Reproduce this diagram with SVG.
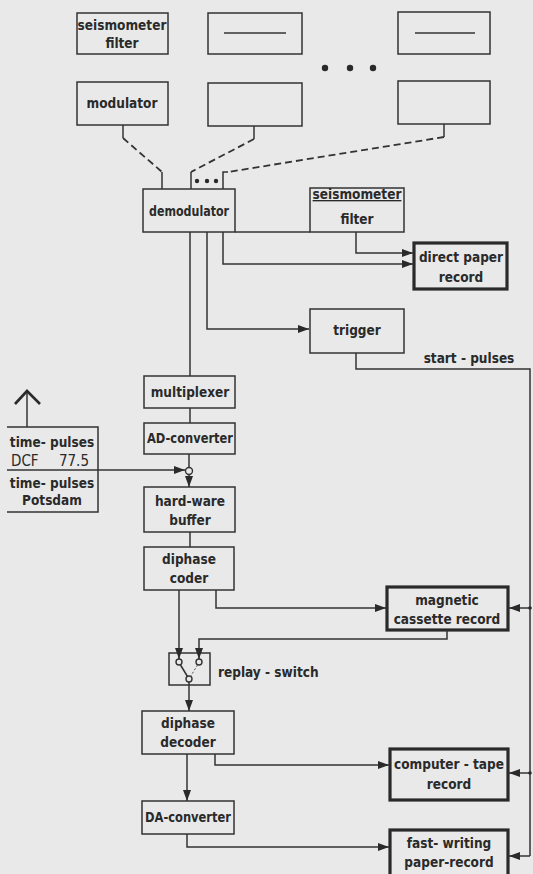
<svg xmlns="http://www.w3.org/2000/svg" width="533" height="874" viewBox="0 0 533 874">
<style>
.bx{fill:none;stroke:#333;stroke-width:1.5}
.tk{fill:none;stroke:#2a2a2a;stroke-width:3.2}
.ln{fill:none;stroke:#333;stroke-width:1.5}
.ds{fill:none;stroke:#333;stroke-width:1.8;stroke-dasharray:7 4}
text{font-family:"DejaVu Sans Condensed","DejaVu Sans",sans-serif;font-weight:bold;font-size:13.5px;fill:#2a2a2a;text-anchor:middle}
.l{text-anchor:start}
.e{text-anchor:end}
.n{font-weight:normal;font-size:15px}
</style>
<defs>
<marker id="ar" markerUnits="userSpaceOnUse" markerWidth="11" markerHeight="8" refX="11" refY="4" orient="auto">
<path d="M0,0 L11,4 L0,8 z" fill="#2a2a2a"/>
</marker>
</defs>
<rect width="533" height="874" fill="#e9e9e9"/>

<g id="sf1"><rect class="bx" x="77" y="13" width="91" height="41"/><text x="122" y="30">seismometer</text><text x="122" y="48">filter</text></g>
<g id="mod1"><rect class="bx" x="77" y="82" width="91" height="43"/><text x="122" y="108">modulator</text></g>
<g id="b2top"><rect class="bx" x="208" y="13" width="94" height="41"/><line class="ln" x1="224" y1="33" x2="286" y2="33" stroke-width="2"/></g>
<g id="b2bot"><rect class="bx" x="208" y="83" width="94" height="43"/></g>
<g id="b3top"><rect class="bx" x="398" y="12" width="92" height="42"/><line class="ln" x1="415" y1="33" x2="475" y2="33" stroke-width="2"/></g>
<g id="b3bot"><rect class="bx" x="398" y="81" width="92" height="43"/></g>
<g id="dots"><circle cx="325" cy="68" r="3.2" fill="#2a2a2a"/><circle cx="350" cy="68" r="3.2" fill="#2a2a2a"/><circle cx="373" cy="68" r="3.2" fill="#2a2a2a"/></g>
<g id="demod"><rect class="bx" x="143" y="189" width="92" height="43"/><text x="189" y="216" textLength="80" lengthAdjust="spacingAndGlyphs">demodulator</text>
<circle cx="197" cy="181" r="2.2" fill="#2a2a2a"/><circle cx="207" cy="181" r="2.2" fill="#2a2a2a"/><circle cx="216" cy="181" r="2.2" fill="#2a2a2a"/></g>
<g id="sf2"><rect class="bx" x="310" y="188" width="94" height="44"/><text x="357" y="199" text-decoration="underline">seismometer</text><text x="357" y="224">filter</text></g>
<g id="dpr"><rect class="tk" x="414" y="243" width="93" height="46"/><text x="461" y="262">direct paper</text><text x="461" y="282">record</text></g>
<g id="trigger"><rect class="bx" x="310" y="309" width="94" height="44"/><text x="357" y="335">trigger</text></g>
<g id="mux"><rect class="bx" x="144" y="376" width="91" height="32"/><text x="190" y="397">multiplexer</text></g>
<g id="adc"><rect class="bx" x="144" y="423" width="91" height="31"/><text x="190" y="443" textLength="86" lengthAdjust="spacingAndGlyphs">AD-converter</text></g>
<g id="time"><path class="bx" d="M7,427 H98 V512 H7"/><text x="52" y="447">time- pulses</text><text class="l n" x="11" y="466">DCF</text><text class="e n" x="89" y="466">77.5</text><text x="52" y="488">time- pulses</text><text x="52" y="505">Potsdam</text>
<line class="ln" x1="27" y1="427" x2="27" y2="391"/><path d="M15,404 L27,391 L40,404" fill="none" stroke="#2a2a2a" stroke-width="2.6"/></g>
<g id="buffer"><rect class="bx" x="144" y="487" width="91" height="45"/><text x="190" y="506">hard-ware</text><text x="190" y="525">buffer</text></g>
<g id="coder"><rect class="bx" x="144" y="547" width="90" height="43"/><text x="189" y="564">diphase</text><text x="189" y="583">coder</text></g>
<g id="mag"><rect class="tk" x="387" y="587" width="121" height="43"/><text x="447" y="605">magnetic</text><text x="447" y="624">cassette record</text></g>
<g id="switch"><rect class="bx" x="169" y="653" width="41" height="32"/>
<circle cx="179" cy="662" r="3" fill="#e9e9e9" stroke="#333" stroke-width="1.4"/><circle cx="199" cy="662" r="3" fill="#e9e9e9" stroke="#333" stroke-width="1.4"/><circle cx="189" cy="679" r="3" fill="#e9e9e9" stroke="#333" stroke-width="1.4"/>
<line class="ln" x1="180.5" y1="665" x2="187.5" y2="676.5"/><line x1="197.5" y1="665" x2="190.5" y2="676.5" stroke="#555" stroke-width="1" stroke-dasharray="2 2"/>
<text class="l" x="218" y="677">replay - switch</text></g>
<g id="decoder"><rect class="bx" x="142" y="711" width="92" height="43"/><text x="188" y="728">diphase</text><text x="188" y="747">decoder</text></g>
<g id="dac"><rect class="bx" x="142" y="801" width="92" height="33"/><text x="188" y="822" textLength="86" lengthAdjust="spacingAndGlyphs">DA-converter</text></g>
<g id="ctr"><rect class="tk" x="390" y="749" width="118" height="51"/><text x="449" y="769">computer - tape</text><text x="449" y="789">record</text></g>
<g id="fwr"><rect class="tk" x="390" y="830" width="118" height="48"/><text x="449" y="848">fast- writing</text><text x="449" y="867">paper-record</text></g>

<g id="connectors">
<path class="ln" d="M123,125 V138"/><path class="ds" d="M123,138 L162,172"/><path class="ln" d="M162,172 V189"/>
<path class="ln" d="M254,126 V139"/><path class="ds" d="M254,139 L191,172"/><path class="ln" d="M191,172 V189"/>
<path class="ln" d="M444,124 V137"/><path class="ds" d="M444,137 L228,172"/><path class="ln" d="M228,172 H223 V189"/>
<path class="ln" d="M235,232 H310"/>
<path class="ln" d="M356,232 V253 H413" marker-end="url(#ar)"/>
<path class="ln" d="M223,232 V264 H413" marker-end="url(#ar)"/>
<path class="ln" d="M207,232 V329 H309" marker-end="url(#ar)"/>
<path class="ln" d="M190,232 V376"/>
<path class="ln" d="M356,353 V369 H530 V856"/>
<text x="469" y="363">start - pulses</text>
<path class="ln" d="M190,408 V423"/>
<path class="ln" d="M189,454 V467.5"/>
<circle cx="189" cy="471" r="3.5" fill="#e9e9e9" stroke="#333" stroke-width="1.4"/>
<path class="ln" d="M7,470 H185" marker-end="url(#ar)"/>
<path class="ln" d="M189,474.5 V487" marker-end="url(#ar)"/>
<path class="ln" d="M190,532 V547"/>
<path class="ln" d="M179,590 V659" marker-end="url(#ar)"/>
<path class="ln" d="M216,590 V608 H386" marker-end="url(#ar)"/>
<path class="ln" d="M447,630 V639 H199 V659" marker-end="url(#ar)"/>
<path class="ln" d="M189,682 V711" marker-end="url(#ar)"/>
<path class="ln" d="M187,754 V801" marker-end="url(#ar)"/>
<path class="ln" d="M215,754 V765 H389" marker-end="url(#ar)"/>
<path class="ln" d="M187,834 V847 H389" marker-end="url(#ar)"/>
<path class="ln" d="M530,608 H509" marker-end="url(#ar)"/>
<path class="ln" d="M530,773 H509" marker-end="url(#ar)"/>
<path class="ln" d="M530,856 H509" marker-end="url(#ar)"/>
<circle cx="530" cy="608" r="1.8" fill="#2a2a2a"/><circle cx="530" cy="773" r="1.8" fill="#2a2a2a"/>
</g>
</svg>
